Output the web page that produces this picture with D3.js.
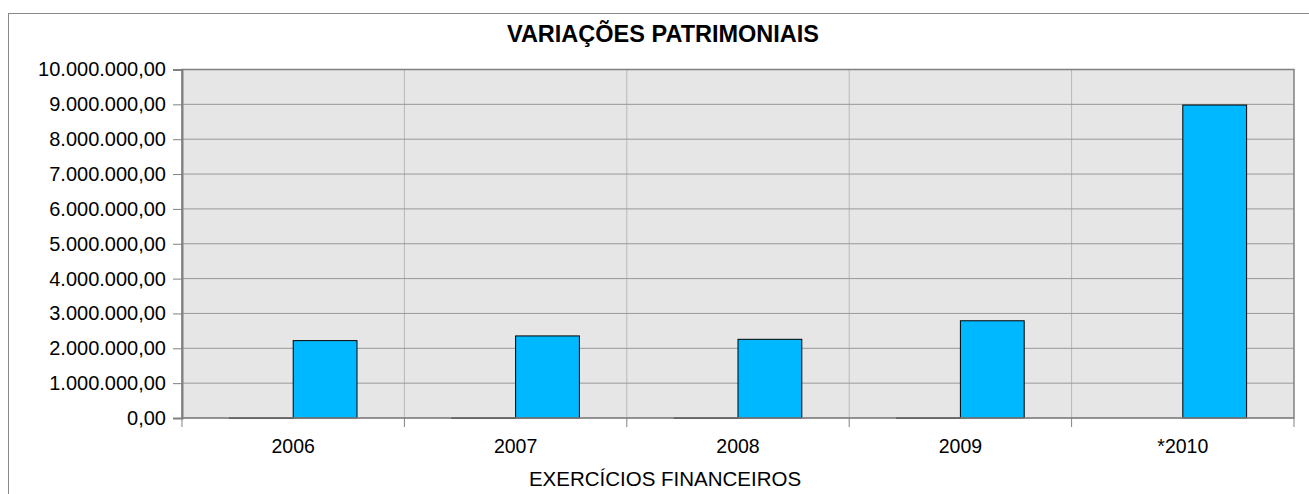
<!DOCTYPE html>
<html>
<head>
<meta charset="utf-8">
<script src="https://cdn.jsdelivr.net/npm/d3@7"></script>
<style>
  body { margin: 0; background: #fff; }
  svg text { font-family: "Liberation Sans", Arial, sans-serif; fill: #000; }
</style>
</head>
<body>
<div id="chart"></div>
<script>
const years = ['2006', '2007', '2008', '2009', '*2010'];
const seriesKeys = ['a', 'b'];
const seriesA = [3000, 3000, 3000, 3000, 0];
const seriesB = [2220000, 2355000, 2258000, 2790000, 8980000];
const yTicks = [0, 1e6, 2e6, 3e6, 4e6, 5e6, 6e6, 7e6, 8e6, 9e6, 1e7];
const seriesColors = { a: '#004586', b: '#00b8ff' };

const width = 1309;
const height = 494;
const margin = { top: 69.5, right: 15, bottom: 76, left: 182 };

const svg = d3
  .select('#chart')
  .append('svg')
  .attr('width', width)
  .attr('height', height);

// outer frame
svg
  .append('rect')
  .attr('x', 8.5)
  .attr('y', 13.5)
  .attr('width', width + 20)
  .attr('height', height + 20)
  .attr('fill', 'none')
  .attr('stroke', '#8a8a8a');

const x = d3
  .scaleBand()
  .domain(years)
  .range([margin.left, width - margin.right]);

const xSub = d3
  .scaleBand()
  .domain(seriesKeys)
  .range([47.4, x.bandwidth() - 47.4]);

const y = d3
  .scaleLinear()
  .domain([0, 1e7])
  .range([height - margin.bottom, margin.top]);

const fmt = d3.formatLocale({
  decimal: ',',
  thousands: '.',
  grouping: [3],
  currency: ['R$', ''],
}).format(',.2f');

const x0 = margin.left;
const x1 = width - margin.right;
const y0 = height - margin.bottom;

// plot background
svg
  .append('rect')
  .attr('x', x0)
  .attr('y', margin.top)
  .attr('width', x1 - x0)
  .attr('height', y0 - margin.top)
  .attr('fill', '#e6e6e6');

// vertical grid at category boundaries
svg
  .append('g')
  .selectAll('line')
  .data(years.slice(1))
  .join('line')
  .attr('x1', (d) => x(d))
  .attr('x2', (d) => x(d))
  .attr('y1', margin.top)
  .attr('y2', y0)
  .attr('stroke', '#b8b8b8')
  .attr('stroke-width', 1);

// horizontal grid
svg
  .append('g')
  .selectAll('line')
  .data(yTicks)
  .join('line')
  .attr('x1', x0)
  .attr('x2', x1)
  .attr('y1', (d) => y(d))
  .attr('y2', (d) => y(d))
  .attr('stroke', '#999')
  .attr('stroke-width', 1);

// bars
const rows = years.map((yr, i) => ({ year: yr, a: seriesA[i], b: seriesB[i] }));
svg
  .append('g')
  .selectAll('g')
  .data(rows)
  .join('g')
  .attr('transform', (d) => `translate(${x(d.year)},0)`)
  .selectAll('rect')
  .data((d) => seriesKeys.map((k) => ({ key: k, value: d[k] })).filter((s) => s.value > 0))
  .join('rect')
  .attr('x', (d) => xSub(d.key))
  .attr('y', (d) => y(d.value))
  .attr('width', xSub.bandwidth())
  .attr('height', (d) => Math.max(0.5, y(0) - y(d.value)))
  .attr('fill', (d) => seriesColors[d.key])
  .attr('stroke', '#000')
  .attr('stroke-width', 1);

// plot border
svg
  .append('rect')
  .attr('x', x0)
  .attr('y', margin.top)
  .attr('width', x1 - x0)
  .attr('height', y0 - margin.top)
  .attr('fill', 'none')
  .attr('stroke', '#808080')
  .attr('stroke-width', 1.5);

// y axis
const yAxis = svg
  .append('g')
  .attr('transform', `translate(${x0},0)`)
  .call(d3.axisLeft(y).tickValues(yTicks).tickFormat(fmt).tickSize(9).tickPadding(7));
yAxis.select('.domain').attr('stroke', '#808080').attr('stroke-width', 2);
yAxis.selectAll('.tick line').attr('stroke', '#808080');
yAxis.selectAll('text').style('font-size', '20px');

// x axis: ticks at category boundaries, labels centered
const xAxis = svg.append('g').attr('transform', `translate(0,${y0})`);
xAxis
  .selectAll('line')
  .data(years.concat(['end']))
  .join('line')
  .attr('x1', (d, i) => x0 + i * x.step())
  .attr('x2', (d, i) => x0 + i * x.step())
  .attr('y1', 0)
  .attr('y2', 9)
  .attr('stroke', '#808080');
xAxis
  .selectAll('text')
  .data(years)
  .join('text')
  .attr('x', (d) => x(d) + x.bandwidth() / 2)
  .attr('y', 35)
  .attr('text-anchor', 'middle')
  .style('font-size', '19.5px')
  .text((d) => d);

// titles
svg
  .append('text')
  .attr('x', 663)
  .attr('y', 42)
  .attr('text-anchor', 'middle')
  .style('font-size', '23.5px')
  .style('font-weight', 'bold')
  .text('VARIAÇÕES PATRIMONIAIS');

svg
  .append('text')
  .attr('x', 665)
  .attr('y', 486)
  .attr('text-anchor', 'middle')
  .style('font-size', '20.5px')
  .text('EXERCÍCIOS FINANCEIROS');
</script>
</body>
</html>
